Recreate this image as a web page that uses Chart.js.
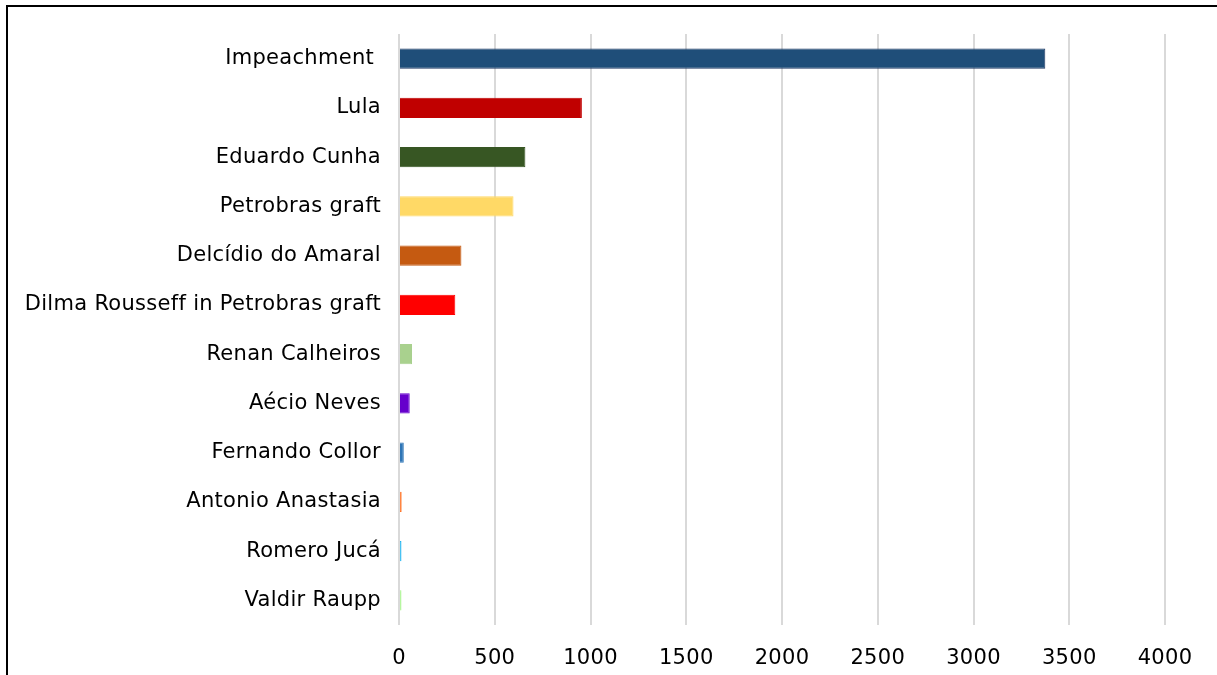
<!DOCTYPE html>
<html>
<head>
<meta charset="utf-8">
<script src="https://cdn.jsdelivr.net/npm/chart.js@4/dist/chart.umd.min.js"></script>
<style>
  html, body { margin: 0; padding: 0; background: #fff; }
  #wrap { position: absolute; left: 0; top: 0; width: 1217px; height: 675px; }
  #frame { position: absolute; left: 6px; top: 5px; width: 1230px; height: 700px;
           border-left: 2px solid #000; border-top: 2px solid #000; box-sizing: border-box; pointer-events: none; }
</style>
</head>
<body>
<div id="wrap"><canvas id="c" width="1217" height="675"></canvas></div>
<div id="frame"></div>
<script>
const categories = ["Impeachment ", "Lula", "Eduardo Cunha", "Petrobras graft", "Delcídio do Amaral",
  "Dilma Rousseff in Petrobras graft", "Renan Calheiros", "Aécio Neves", "Fernando Collor",
  "Antonio Anastasia", "Romero Jucá", "Valdir Raupp"];
const values = [3375, 955, 660, 598, 326, 294, 68, 56, 25, 14, 13, 13];
const barColors = ["#1f4e79", "#c00000", "#375623", "#ffd966", "#c55a11", "#ff0000",
  "#a9d18e", "#6600cc", "#2e75b6", "#ff7326", "#1eb4f0", "#a6f58a"];
const borderColors = ["#1f3864", "#c00000", "#375623", "#ffd966", "#c55a11", "#ff0000",
  "#a9d18e", "#6600cc", "#2e75b6", "#ff7326", "#1eb4f0", "#a6f58a"];
const xTicks = [0, 500, 1000, 1500, 2000, 2500, 3000, 3500, 4000];

const FONT = "'DejaVu Sans', Verdana, sans-serif";

const spacingPlugin = {
  id: "spacing",
  beforeDraw(chart) { if ("letterSpacing" in chart.ctx) chart.ctx.letterSpacing = "0.3px"; }
};

new Chart(document.getElementById("c"), {
  type: "bar",
  data: {
    labels: categories,
    datasets: [{
      data: values,
      backgroundColor: barColors,
      borderColor: borderColors,
      borderWidth: 1,
      categoryPercentage: 0.82,
      barPercentage: 0.5
    }]
  },
  plugins: [spacingPlugin],
  options: {
    indexAxis: "y",
    responsive: false,
    animation: false,
    devicePixelRatio: 1,
    layout: { padding: { left: 10, right: 52, top: 34, bottom: 0 } },
    plugins: { legend: { display: false }, tooltip: { enabled: false } },
    scales: {
      x: {
        min: 0, max: 4000,
        afterBuildTicks: (s) => { s.ticks = xTicks.map(v => ({ value: v })); },
        afterFit: (s) => { s.height = 50; },
        grid: { color: "#d9d9d9", lineWidth: 2, drawTicks: false },
        border: { display: false },
        ticks: { color: "#000", font: { family: FONT, size: 21 }, padding: 21, maxRotation: 0,
                 callback: (v) => String(v) }
      },
      y: {
        afterFit: (s) => { s.width = 389; },
        grid: { display: false, drawTicks: false },
        border: { display: false },
        ticks: { color: "#000", font: { family: FONT, size: 21 }, padding: 18 }
      }
    }
  }
});
</script>
</body>
</html>
